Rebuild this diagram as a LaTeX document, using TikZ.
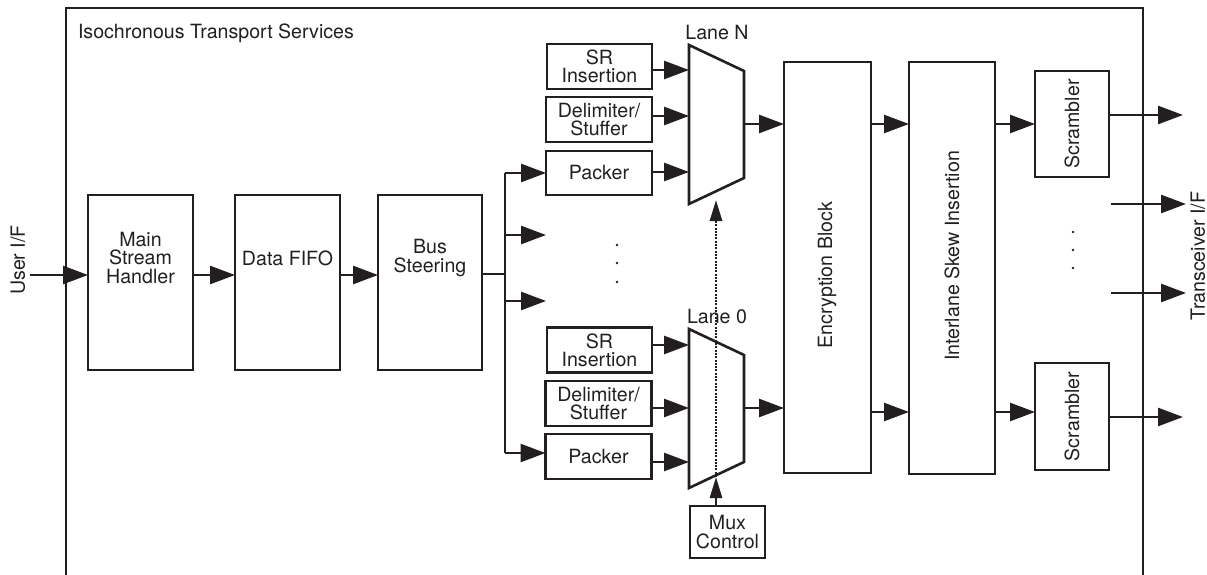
\documentclass[tikz,border=0pt]{standalone}
\usepackage{fontspec}
\setmainfont{TeX Gyre Heros}
\usetikzlibrary{arrows.meta}
\definecolor{ink}{RGB}{35,31,32}
\begin{document}
\begin{tikzpicture}[x=1pt,y=-1pt,
  font=\fontsize{19.6}{18.3}\selectfont,
  color=ink, line width=2.6pt,
  blk/.style={draw=ink,line width=2.6pt,inner sep=0pt,outer sep=0pt,align=center,text=ink},
  txt/.style={inner sep=0pt,outer sep=0pt,align=center,text=ink},
  big/.style={-{Triangle[length=25pt,width=18pt]}},
  small/.style={-{Triangle[length=21pt,width=12pt]}},
  dotline/.style={line width=2.8pt,dash pattern=on 2pt off 1.3pt},
  dotmark/.style={circle,fill=ink,draw=none,inner sep=0pt,minimum size=2.8pt}
]
\useasboundingbox (0,0) rectangle (1207,575);

% outer frame
\draw (66,576) -- (66,8) -- (1143,8) -- (1143,576);
\node[txt,anchor=base west] (title) at (78,39) {Isochronous Transport Services};

% main chain
\node[blk,minimum width=105pt,minimum height=175pt] (msh) at (140.5,282.5) {};
\node[txt] (msht) at (140.5,258) {Main\\Stream\\Handler};
\node[blk,minimum width=105pt,minimum height=175pt] (fifo) at (287.5,282.5) {};
\node[txt] (fifot) at (287.5,258) {Data FIFO};
\node[blk,minimum width=104pt,minimum height=175pt] (bus) at (430,282.5) {};
\node[txt] (bust) at (430,258) {Bus\\Steering};

\node[txt,rotate=90] (user) at (18,260) {User I/F};
\coordinate (uin) at (30,275);
\draw[big] (uin) -- (uin -| msh.west);
\draw[big] (msh.east |- uin) -- (fifo.west |- uin);
\draw[big] (fifo.east |- uin) -- (bus.west |- uin);

% bus fan-out
\coordinate (bj) at (505,274);
\coordinate (btop) at (505,173);
\coordinate (bm1) at (505,235);
\coordinate (bm2) at (505,301);
\coordinate (bbot) at (505,453);
\coordinate (fe1) at (546,235);
\coordinate (fe2) at (546,301);
\draw (bus.east |- bj) -- (bj);
\draw (btop) -- (bbot);

% lane N blocks
\node[blk,minimum width=105pt,minimum height=45pt] (srN) at (599.5,66.5) {SR\\Insertion};
\node[blk,minimum width=106pt,minimum height=45pt] (dsN) at (599,119.5) {Delimiter/\\Stuffer};
\node[blk,minimum width=106pt,minimum height=44pt] (pkN) at (599,173) {Packer};
% lane 0 blocks
\node[blk,minimum width=105pt,minimum height=45pt] (sr0) at (599.5,350) {SR\\Insertion};
\node[blk,minimum width=106pt,minimum height=45pt] (ds0) at (598.5,403.5) {Delimiter/\\Stuffer};
\node[blk,minimum width=106pt,minimum height=45pt] (pk0) at (598.5,456.5) {Packer};

\draw[big] (btop) -- (pkN.west |- btop);
\draw[big] (bm1) -- (fe1);
\draw[big] (bm2) -- (fe2);
\draw[big] (bbot) -- (pk0.west |- bbot);

\node[dotmark] (dA1) at (617,245) {};
\node[dotmark] (dA2) at (617,263) {};
\node[dotmark] (dA3) at (617,282) {};

% muxes
\coordinate (mN1) at (689,45);
\coordinate (mN2) at (744,71);
\coordinate (mN3) at (744,178);
\coordinate (mN4) at (689,204);
\draw[line join=miter] (mN1) -- (mN2) -- (mN3) -- (mN4) -- cycle;
\coordinate (m01) at (689,329);
\coordinate (m02) at (744,355);
\coordinate (m03) at (744,462);
\coordinate (m04) at (689,488);
\draw[line join=miter] (m01) -- (m02) -- (m03) -- (m04) -- cycle;
\node[txt] (laneN) at (717,33) {Lane N};
\node[txt] (lane0) at (717,317) {Lane 0};

\draw[big] ([yshift=-3.5pt]srN.east) -- ([yshift=-3.5pt]srN.east -| mN1);
\draw[big] ([yshift=3.5pt]dsN.east) -- ([yshift=3.5pt]dsN.east -| mN1);
\draw[big] ([yshift=1pt]pkN.east) -- ([yshift=1pt]pkN.east -| mN1);
\draw[big] ([yshift=5pt]sr0.east) -- ([yshift=5pt]sr0.east -| m01);
\draw[big] ([yshift=-4.5pt]ds0.east) -- ([yshift=-4.5pt]ds0.east -| m01);
\draw[big] ([yshift=-5.5pt]pk0.east) -- ([yshift=-5.5pt]pk0.east -| m01);

% encryption and interlane
\node[blk,minimum width=87pt,minimum height=411pt] (enc) at (827.5,267.5) {};
\node[txt,rotate=90] (enct) at (827,275) {Encryption Block};
\node[blk,minimum width=86pt,minimum height=412pt] (isk) at (952,268) {};
\node[txt,rotate=90] (iskt) at (952,256) {Interlane Skew Insertion};

\coordinate (oN) at (744,124);
\coordinate (o0) at (744,408);
\draw[big] (oN) -- (oN -| enc.west);
\draw[big] (o0) -- (o0 -| enc.west);
\coordinate (eN) at (871,124);
\coordinate (e0) at (871,412);
\draw[big] (eN) -- (eN -| isk.west);
\draw[big] (e0) -- (e0 -| isk.west);

% scramblers
\node[blk,minimum width=74pt,minimum height=106pt] (scN) at (1072,124) {};
\node[txt,rotate=90] (scNt) at (1072,124) {Scrambler};
\node[blk,minimum width=74pt,minimum height=107pt] (sc0) at (1072,416.5) {};
\node[txt,rotate=90] (sc0t) at (1072,416.5) {Scrambler};
\draw[big] (isk.east |- eN) -- (scN.west |- eN);
\draw[big] (isk.east |- e0) -- (sc0.west |- e0);

\coordinate (tN) at (1183,115);
\coordinate (t0) at (1183,417);
\draw[big] (scN.east |- tN) -- (tN);
\draw[big] (sc0.east |- t0) -- (t0);
\coordinate (tm1s) at (1111,204);
\coordinate (tm1e) at (1186,204);
\coordinate (tm2s) at (1111,293);
\coordinate (tm2e) at (1186,293);
\draw[big] (tm1s) -- (tm1e);
\draw[big] (tm2s) -- (tm2e);
\node[dotmark] (dB1) at (1073,232) {};
\node[dotmark] (dB2) at (1073,250) {};
\node[dotmark] (dB3) at (1073,268) {};
\node[txt,rotate=90] (trx) at (1198,256) {Transceiver I/F};

% mux control
\node[blk,minimum width=75pt,minimum height=52pt] (mc) at (727.5,532) {Mux\\Control};
\coordinate (mcin) at (716,477);
\coordinate (mcN) at (716,200);
\draw[small] (mc.north -| mcin) -- (mcin);
\draw[small,dotline] (mcin) -- (mcN);
\end{tikzpicture}
\end{document}
